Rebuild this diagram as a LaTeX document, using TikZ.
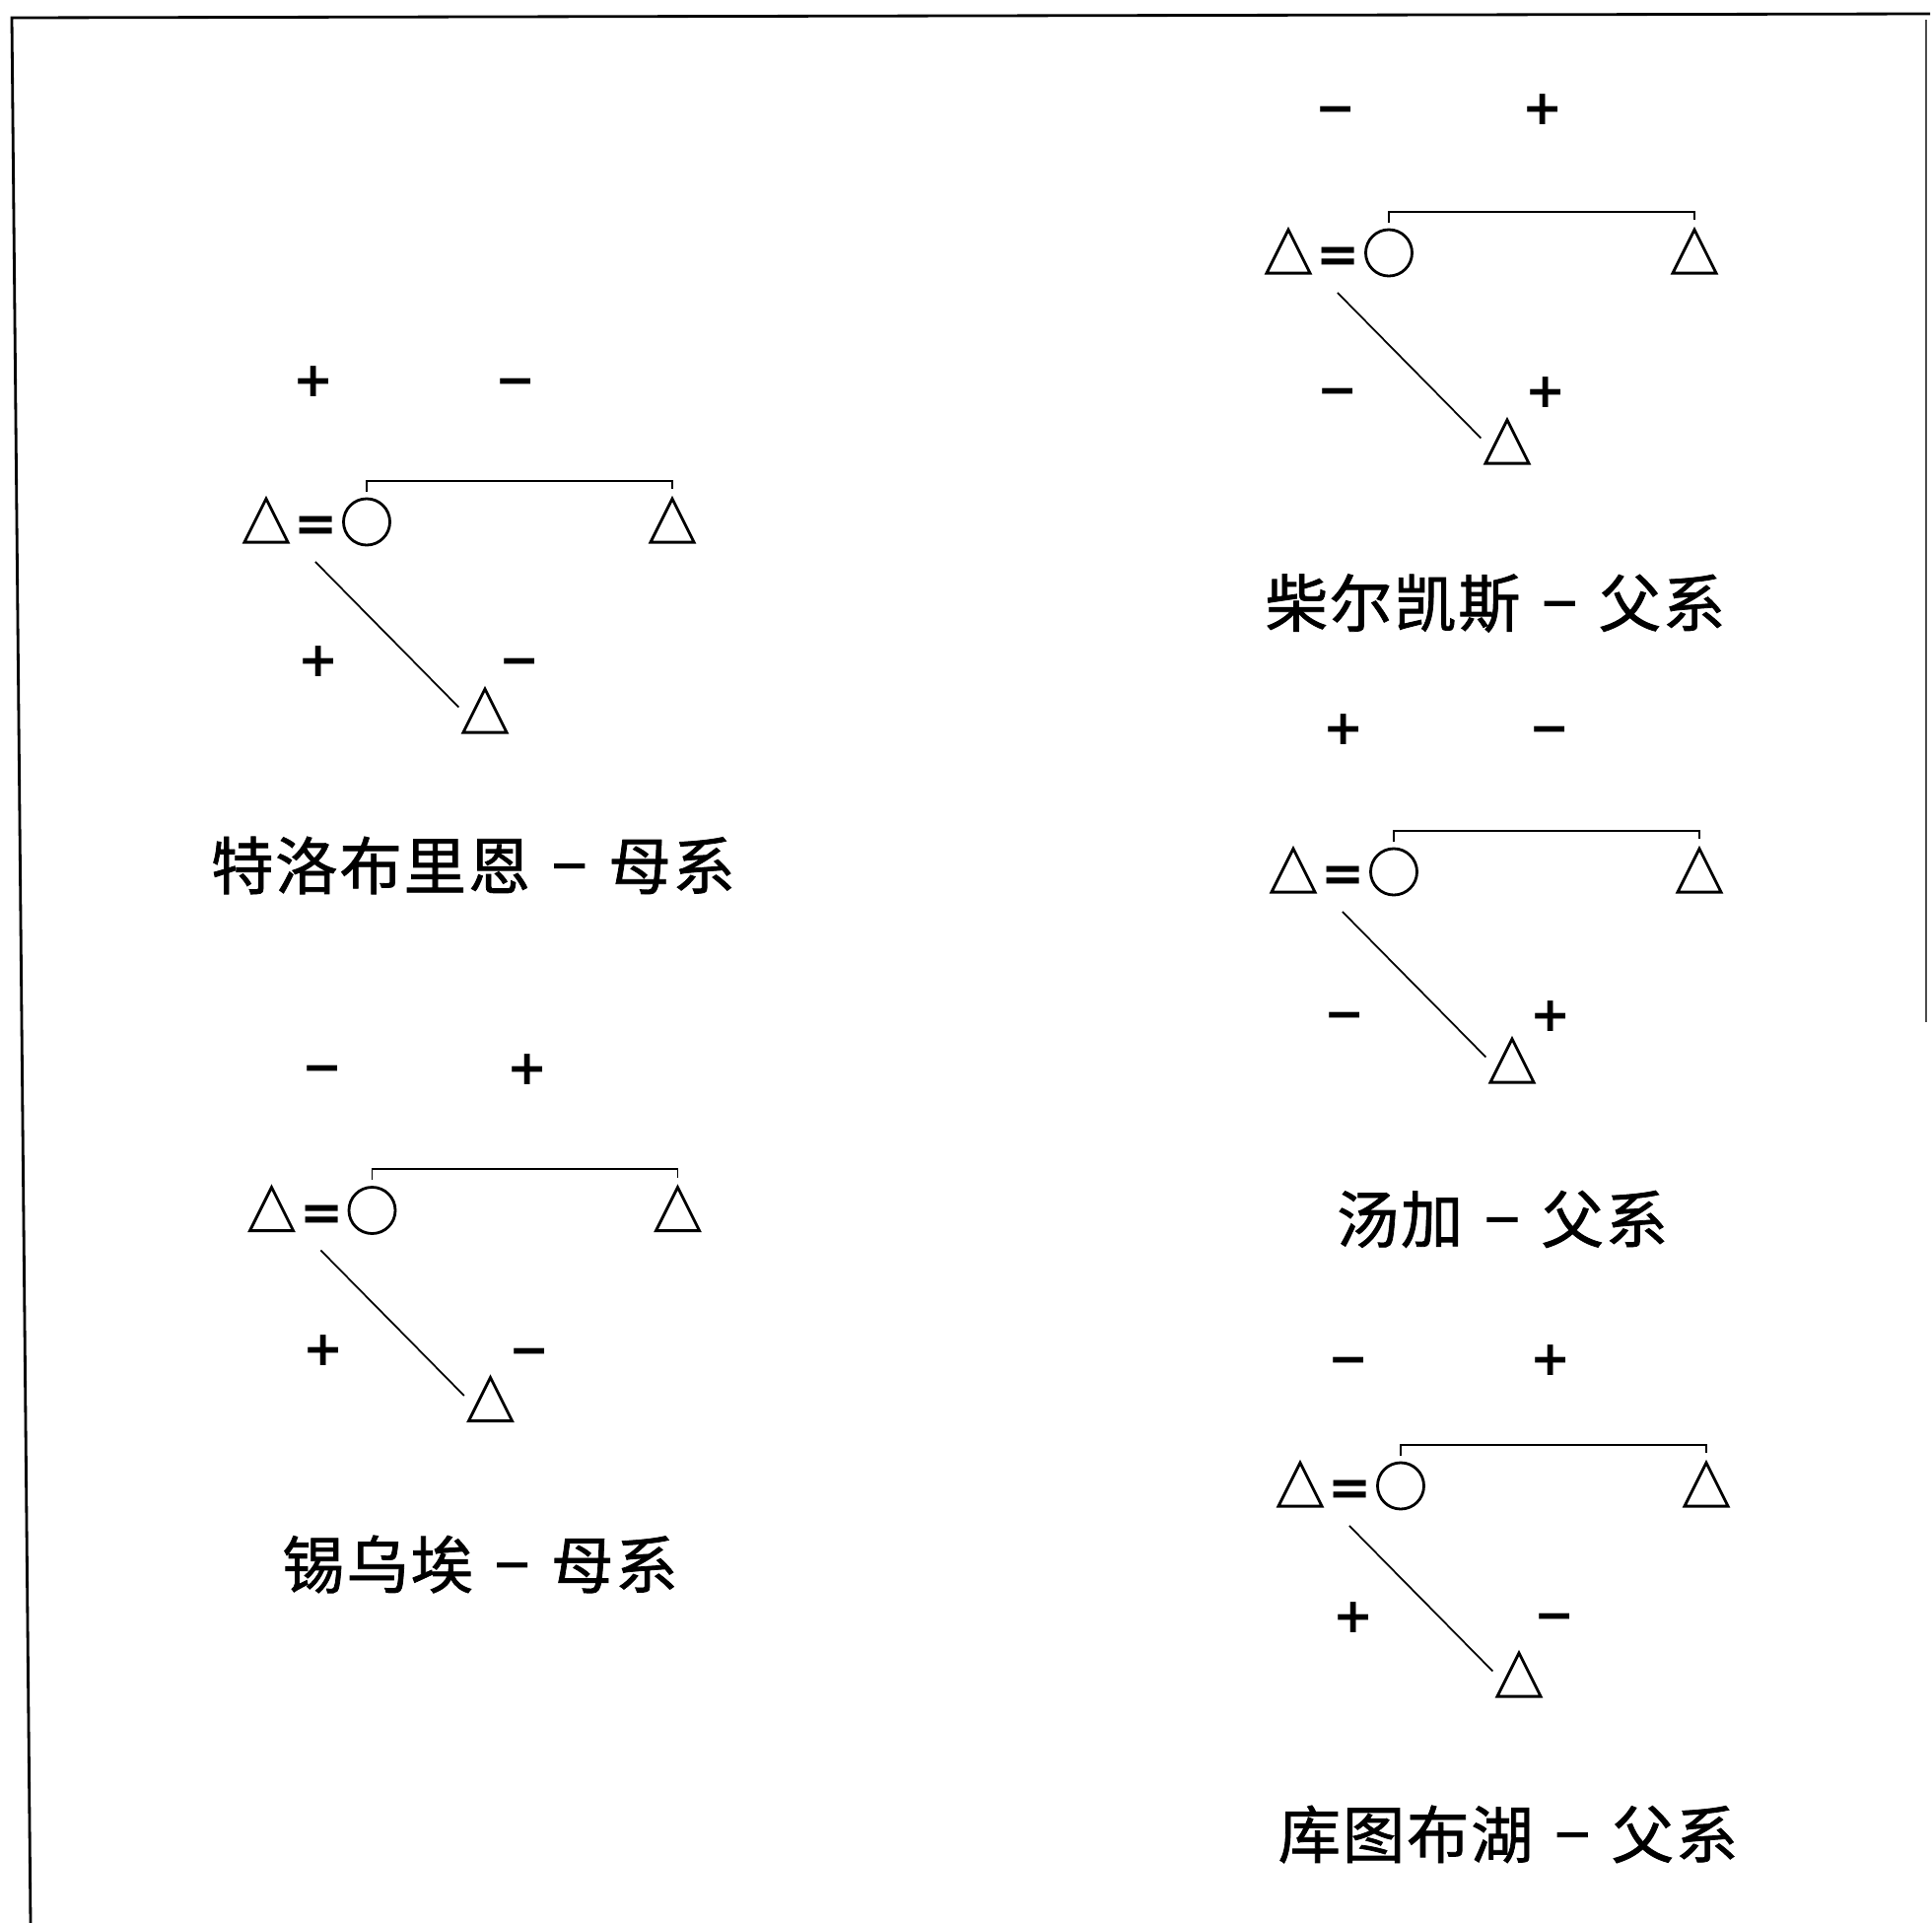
\documentclass[tikz,border=0pt]{standalone}
\usepackage{fontspec}
\newfontfamily\cjk[FakeBold=1.2, LetterSpace=3]{Noto Sans CJK SC}
\newfontfamily\signfont{DejaVu Sans}
\usetikzlibrary{shapes.geometric}

\begin{document}
\begin{tikzpicture}[x=0.01cm, y=-0.01cm]
    % Define styles
    \tikzstyle{man} = [isosceles triangle, isosceles triangle stretches, shape border rotate=90, minimum width=0.44cm, minimum height=0.44cm, inner sep=0pt, draw=black, line width=0.8pt, yshift=-0.08cm]
    \tikzstyle{woman} = [circle, minimum size=0.47cm, inner sep=0pt, draw=black, line width=0.8pt]
    \tikzstyle{marry} = [inner sep=0pt, text height=0.75em, text depth=0pt, font=\fontsize{15}{17}\signfont\bfseries]
    \tikzstyle{sign} = [inner sep=0pt, text height=0.75em, text depth=0pt, font=\fontsize{14}{16}\signfont\bfseries]
    \tikzstyle{caption} = [inner sep=0pt, font=\fontsize{18}{20}\cjk]
    \tikzstyle{sibling} = [line width=0.55pt, shorten <=0.06cm, shorten >=0.06cm]
    \tikzstyle{descent} = [line width=0.5pt, shorten <=0.47cm, shorten >=0.38cm]
    \newcommand{\dash}{\hspace{0.22cm}−\hspace{0.22cm}}

    \useasboundingbox (0,0) rectangle (1960,1951);

    % Frame
    \draw [line width=0.8pt] (31,1951) -- (12,18) -- (1958,14);
    \draw [line width=0.4pt, black!70] (1954,20) -- (1954,1037);

    % Trobriand
    \begin{scope}[shift={(270,528.5)}]
    \node [man] (h1) at (0,0) {};
    \node [marry] (m1) at (51,8) {=};
    \node [woman] (w1) at (102,1) {};
    \node [man] (b1) at (412,0) {};
    \node [man] (c1) at (222,193) {};
    \node [sign] (hw1) at (48,-139.5) {+};
    \node [sign] (bs1) at (253,-139.5) {−};
    \node [sign] (fs1) at (53,144.5) {+};
    \node [sign] (un1) at (257,144.5) {−};
    \node [caption] (t1) at (210,349.5) {特洛布里恩\dash 母系};
    \draw [sibling] (w1.north) -- ++(0,-17) -| (b1.apex);
    \draw [descent] (h1.east) -- (c1.lower side);
    \end{scope}

    % Siuai
    \begin{scope}[shift={(275.5,1227)}]
    \node [man] (h2) at (0,0) {};
    \node [marry] (m2) at (51,8) {=};
    \node [woman] (w2) at (102,1) {};
    \node [man] (b2) at (412,0) {};
    \node [man] (c2) at (222,193) {};
    \node [sign] (hw2) at (51.5,-141) {−};
    \node [sign] (bs2) at (259.5,-140) {+};
    \node [sign] (fs2) at (52.5,145) {+};
    \node [sign] (un2) at (261.5,146) {−};
    \node [caption] (t2) at (211.5,360) {锡乌埃\dash 母系};
    \draw [sibling] (w2.north) -- ++(0,-17) -| (b2.apex);
    \draw [descent] (h2.east) -- (c2.lower side);
    \end{scope}

    % Cherkess
    \begin{scope}[shift={(1307,255.5)}]
    \node [man] (h3) at (0,0) {};
    \node [marry] (m3) at (51,8) {=};
    \node [woman] (w3) at (102,1) {};
    \node [man] (b3) at (412,0) {};
    \node [man] (c3) at (222,193) {};
    \node [sign] (hw3) at (48,-142.5) {−};
    \node [sign] (bs3) at (258,-142.5) {+};
    \node [sign] (fs3) at (50,143.5) {−};
    \node [sign] (un3) at (261,144.5) {+};
    \node [caption] (t3) at (210,356.5) {柴尔凯斯\dash 父系};
    \draw [sibling] (w3.north) -- ++(0,-17) -| (b3.apex);
    \draw [descent] (h3.east) -- (c3.lower side);
    \end{scope}

    % Tonga
    \begin{scope}[shift={(1312,883.5)}]
    \node [man] (h4) at (0,0) {};
    \node [marry] (m4) at (51,8) {=};
    \node [woman] (w4) at (102,1) {};
    \node [man] (b4) at (412,0) {};
    \node [man] (c4) at (222,193) {};
    \node [sign] (hw4) at (51,-141.5) {+};
    \node [sign] (bs4) at (260,-141.5) {−};
    \node [sign] (fs4) at (52,148.5) {−};
    \node [sign] (un4) at (261,149.5) {+};
    \node [caption] (t4) at (212,353.5) {汤加\dash 父系};
    \draw [sibling] (w4.north) -- ++(0,-17) -| (b4.apex);
    \draw [descent] (h4.east) -- (c4.lower side);
    \end{scope}

    % Lake Kutubu
    \begin{scope}[shift={(1319,1506.5)}]
    \node [man] (h5) at (0,0) {};
    \node [marry] (m5) at (51,8) {=};
    \node [woman] (w5) at (102,1) {};
    \node [man] (b5) at (412,0) {};
    \node [man] (c5) at (222,193) {};
    \node [sign] (hw5) at (49,-124.5) {−};
    \node [sign] (bs5) at (254,-124.5) {+};
    \node [sign] (fs5) at (54,136.5) {+};
    \node [sign] (un5) at (258,135.5) {−};
    \node [caption] (t5) at (211,354.5) {库图布湖\dash 父系};
    \draw [sibling] (w5.north) -- ++(0,-17) -| (b5.apex);
    \draw [descent] (h5.east) -- (c5.lower side);
    \end{scope}
\end{tikzpicture}
\end{document}
